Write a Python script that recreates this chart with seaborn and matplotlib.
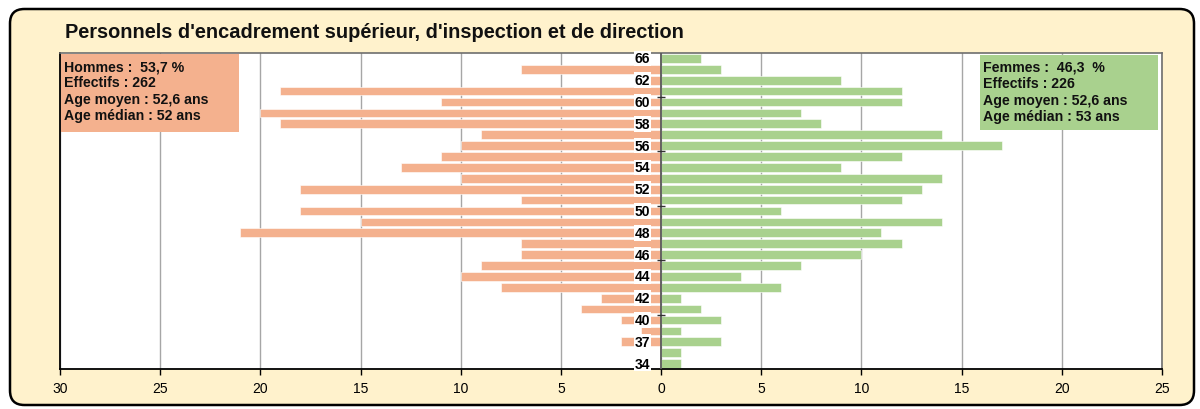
import matplotlib
matplotlib.use("Agg")
import matplotlib.pyplot as plt
from matplotlib.patches import FancyBboxPatch, Rectangle
from matplotlib.ticker import FuncFormatter
import seaborn as sns
import pandas as pd

# ---- data ----
ages = ["66", "64", "62", "61", "60", "59", "58", "57", "56", "55", "54", "53",
        "52", "51", "50", "49", "48", "47", "46", "45", "44", "43", "42", "41",
        "40", "38", "37", "35", "34"]
hommes = [0, 7, 1, 19, 11, 20, 19, 9, 10, 11, 13, 10, 18, 7, 18, 15, 21, 7, 7,
          9, 10, 8, 3, 4, 2, 1, 2, 0, 0]
femmes = [2, 3, 9, 12, 12, 7, 8, 14, 17, 12, 9, 14, 13, 12, 6, 14, 11, 12, 10,
          7, 4, 6, 1, 2, 3, 1, 3, 1, 1]
shown_labels = ["66", "62", "60", "58", "56", "54", "52", "50", "48", "46",
                "44", "42", "40", "37", "34"]
minor_marks = ["60", "55", "50", "45", "40"]
title = "Personnels d'encadrement supérieur, d'inspection et de direction"
hommes_text = ["Hommes :  53,7 %", "Effectifs : 262", "Age moyen : 52,6 ans",
               "Age médian : 52 ans"]
femmes_text = ["Femmes :  46,3  %", "Effectifs : 226", "Age moyen : 52,6 ans",
               "Age médian : 53 ans"]
x_ticks = [-30, -25, -20, -15, -10, -5, 0, 5, 10, 15, 20, 25]

C_MEN = "#F4B18E"
C_WOMEN = "#A9D18E"
C_BG = "#FFF2CC"

sns.set_theme(style="white")
plt.rcParams["font.family"] = ["Liberation Sans", "DejaVu Sans"]

W, H = 1200, 410
fig = plt.figure(figsize=(12, 4.1), dpi=100)
fig.patch.set_facecolor("white")


def fx(px):
    return px / W


def fy(py):
    return 1 - py / H


# rounded yellow frame
frame = FancyBboxPatch((fx(10), fy(406)), fx(1184), (396) / H,
                       boxstyle="round,pad=0,rounding_size=0.012",
                       transform=fig.transFigure, facecolor=C_BG,
                       edgecolor="black", linewidth=1.8, zorder=-5,
                       mutation_aspect=W / H)
fig.patches.append(frame)

ax = fig.add_axes([fx(60), fy(370), fx(1162) - fx(60), (370 - 54) / H])
ax.set_zorder(1)
ax.set_facecolor("white")

df = pd.DataFrame({"age": ages, "H": [-v for v in hommes], "F": femmes})
sns.barplot(data=df, x="H", y="age", order=ages, orient="h", color=C_MEN,
            width=0.8, edgecolor="white", linewidth=0.4, saturation=1, ax=ax)
sns.barplot(data=df, x="F", y="age", order=ages, orient="h", color=C_WOMEN,
            width=0.8, edgecolor="white", linewidth=0.4, saturation=1, ax=ax)
for p in ax.patches:
    p.set_zorder(2)

ax.set_xlim(-30, 25)
ax.set_ylim(len(ages) - 0.5, -0.5)
ax.set_xticks(x_ticks)
ax.xaxis.set_major_formatter(FuncFormatter(lambda v, p: f"{abs(int(round(v)))}"))
ax.tick_params(axis="x", direction="out", length=4, width=1, colors="black",
               labelsize=10, pad=5, bottom=True)
ax.set_yticks([])
ax.set_xlabel("")
ax.set_ylabel("")
ax.grid(axis="x", color="#A6A6A6", linewidth=1, zorder=0.5)
ax.set_axisbelow(True)
ax.axvline(0, color="#595959", linewidth=1.3, zorder=3)

for s in ["left", "bottom"]:
    ax.spines[s].set_color("black")
    ax.spines[s].set_linewidth(1.3)
for s in ["top", "right"]:
    ax.spines[s].set_color("#6E6E6E")
    ax.spines[s].set_linewidth(1.2)

# age labels
for i, a in enumerate(ages):
    if a in shown_labels:
        ax.text(-0.55, i, a, ha="right", va="center", fontsize=10,
                fontweight="bold", color="black", zorder=4,
                bbox=dict(facecolor="white", edgecolor="none", pad=0.6))
# small marks across the centre axis
for i, a in enumerate(ages):
    if a in minor_marks:
        ax.hlines(i - 0.5, -0.22, 0.22, color="#333333", linewidth=1, zorder=4)

# title
fig.text(fx(65), fy(33), title, ha="left", va="center", fontsize=14.4,
         fontweight="bold", color="#111111")

# info boxes
fig.patches.append(Rectangle((fx(61), fy(133)), fx(239) - fx(61), (133 - 55) / H,
                             transform=fig.transFigure, facecolor=C_MEN,
                             edgecolor="none", zorder=5))
fig.patches.append(Rectangle((fx(980), fy(131)), fx(1158) - fx(980), (131 - 56) / H,
                             transform=fig.transFigure, facecolor=C_WOMEN,
                             edgecolor="none", zorder=5))
for k, (th, tf) in enumerate(zip(hommes_text, femmes_text)):
    yy = [67, 83, 100, 116][k]
    fig.text(fx(64), fy(yy), th, ha="left", va="center", fontsize=10.2,
             fontweight="bold", color="#111111", zorder=6)
    fig.text(fx(983), fy(yy + 1), tf, ha="left", va="center", fontsize=10.2,
             fontweight="bold", color="#111111", zorder=6)

fig.savefig("out.png", dpi=100, facecolor="white")
